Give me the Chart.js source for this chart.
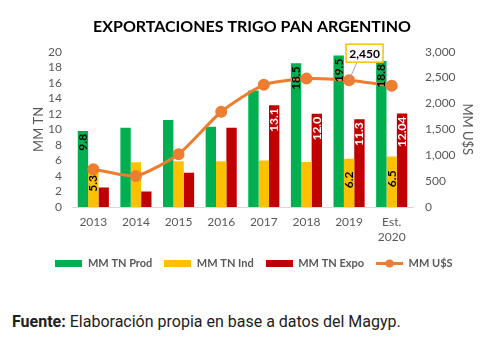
<!DOCTYPE html>
<html>
<head>
<meta charset="utf-8">
<script src="https://cdn.jsdelivr.net/npm/chart.js@4/dist/chart.umd.min.js"></script>
<style>
  html, body { margin: 0; padding: 0; background: #fff; }
  #wrap { position: relative; width: 482px; height: 339px; overflow: hidden; }
  #chartBox { position: absolute; left: 0; top: 0; width: 482px; height: 279px; }
  #fuente { position: absolute; left: 12px; top: 312px; font-family: Roboto, sans-serif;
            font-size: 16px; color: #212121; white-space: nowrap; }
</style>
</head>
<body>
<div id="wrap">
  <div id="chartBox"><canvas id="c" width="482" height="279"></canvas></div>
  <div id="fuente"><b>Fuente:</b> Elaboración propia en base a datos del Magyp.</div>
</div>
<script>
// Campaign years (last one is an estimate)
const years = ['2013', '2014', '2015', '2016', '2017', '2018', '2019', ['Est.', '2020']];

// Millions of tonnes
const prodTn = [9.8, 10.2, 11.2, 10.35, 15.0, 18.5, 19.5, 18.8];
const indTn  = [5.3, 5.75, 5.9, 5.9, 6.0, 5.8, 6.2, 6.5];
const expoTn = [2.5, 2.0, 4.4, 10.2, 13.1, 12.0, 11.3, 12.04];

// Export value, millions of US$
const valueUsd = [730, 600, 1020, 1840, 2360, 2480, 2450, 2340];

// Axis tick ranges
const tnTicks  = { min: 0, max: 20, step: 2 };
const usdTicks = { min: 0, max: 3000, step: 500 };

// Which bars / points carry a value label
const prodLabelIdx = [0, 5, 6, 7];
const indLabelIdx  = [0, 6, 7];
const expoLabelIdx = [4, 5, 6, 7];
const usdLabelIdx  = [6];

const GREEN = '#00B050', YELLOW = '#FFC000', RED = '#C00000', ORANGE = '#ED7D31';
const GREY = '#595959';
const FONT = 'Lato, "Open Sans", sans-serif';

function fmt(v) {
  return Math.abs(Math.round(v * 10) - v * 10) < 1e-9 ? v.toFixed(1) : v.toFixed(2);
}

// Legend swatches drawn as small canvases
function swatchBar(color) {
  const c = document.createElement('canvas');
  c.width = 27; c.height = 7;
  const g = c.getContext('2d');
  g.fillStyle = color; g.fillRect(0, 0, 27, 7);
  return c;
}
function swatchLine(color) {
  const c = document.createElement('canvas');
  c.width = 27; c.height = 9;
  const g = c.getContext('2d');
  g.strokeStyle = color; g.lineWidth = 3;
  g.beginPath(); g.moveTo(0, 4.5); g.lineTo(27, 4.5); g.stroke();
  g.fillStyle = color; g.beginPath(); g.arc(13.5, 4.5, 4, 0, Math.PI * 2); g.fill();
  return c;
}

// Title and legend sit slightly right of the canvas centre (over the plot)
const boxShift = {
  id: 'boxShift',
  afterLayout(chart) {
    const t = chart.titleBlock, l = chart.legend;
    if (t) { t.left += 11; t.right += 11; }
    if (l) { l.left += 13; l.right += 13; }
  }
};

const valueLabels = {
  id: 'valueLabels',
  afterDatasetsDraw(chart) {
    const ctx = chart.ctx;
    ctx.save();
    ctx.font = 'bold 12px ' + FONT;
    ctx.textBaseline = 'middle';

    const bars = [
      { ds: 0, idx: prodLabelIdx, color: '#000', mode: 'end' },
      { ds: 1, idx: indLabelIdx, color: '#000', mode: 'center' },
      { ds: 2, idx: expoLabelIdx, color: '#fff', mode: 'end' }
    ];
    bars.forEach(cfg => {
      const meta = chart.getDatasetMeta(cfg.ds);
      const data = chart.data.datasets[cfg.ds].data;
      cfg.idx.forEach(i => {
        const el = meta.data[i];
        const txt = fmt(data[i]);
        ctx.save();
        if (cfg.mode === 'end') {
          ctx.translate(el.x, el.y + 3);
          ctx.rotate(-Math.PI / 2);
          ctx.textAlign = 'right';
        } else {
          ctx.translate(el.x, (el.y + el.base) / 2 - 3);
          ctx.rotate(-Math.PI / 2);
          ctx.textAlign = 'center';
        }
        ctx.fillStyle = cfg.color;
        ctx.fillText(txt, 0, 0);
        ctx.restore();
      });
    });

    // Callout for the line value
    const lmeta = chart.getDatasetMeta(3);
    const ldata = chart.data.datasets[3].data;
    usdLabelIdx.forEach(i => {
      const p = lmeta.data[i];
      const txt = ldata[i].toLocaleString('en-US');
      const w = 37, h = 18;
      const bx = p.x - 3, by = p.y - 36;
      ctx.strokeStyle = '#A6A6A6';
      ctx.lineWidth = 1;
      ctx.beginPath();
      ctx.moveTo(p.x, p.y);
      ctx.lineTo(bx + 11, by + h);
      ctx.stroke();
      ctx.fillStyle = '#fff';
      ctx.fillRect(bx, by, w, h);
      ctx.strokeStyle = YELLOW;
      ctx.lineWidth = 1.5;
      ctx.strokeRect(bx, by, w, h);
      ctx.fillStyle = '#000';
      ctx.textAlign = 'center';
      ctx.fillText(txt, bx + w / 2, by + h / 2 + 0.5);
    });
    ctx.restore();
  }
};

new Chart(document.getElementById('c'), {
  data: {
    labels: years,
    datasets: [
      { type: 'bar', label: 'MM TN Prod', data: prodTn, backgroundColor: GREEN, yAxisID: 'y', order: 2 },
      { type: 'bar', label: 'MM TN Ind', data: indTn, backgroundColor: YELLOW, yAxisID: 'y', order: 2 },
      { type: 'bar', label: 'MM TN Expo', data: expoTn, backgroundColor: RED, yAxisID: 'y', order: 2 },
      { type: 'line', label: 'MM U$S', data: valueUsd, borderColor: ORANGE, backgroundColor: ORANGE,
        borderWidth: 3, pointRadius: 4.5, pointHoverRadius: 4.5, tension: 0.2, yAxisID: 'y1', order: 1 }
    ]
  },
  options: {
    responsive: false,
    animation: false,
    devicePixelRatio: 1,
    datasets: { bar: { categoryPercentage: 0.73, barPercentage: 1.0 } },
    layout: { padding: { left: 0, right: 0, top: 0, bottom: 0 } },
    plugins: {
      title: {
        display: true,
        text: 'EXPORTACIONES TRIGO PAN ARGENTINO',
        color: '#000',
        font: { family: FONT, size: 16, weight: 'bold' },
        padding: { top: 17, bottom: 15.5 }
      },
      legend: {
        position: 'bottom',
        labels: {
          usePointStyle: true,
          pointStyleWidth: 27,
          padding: 12,
          color: GREY,
          font: { family: FONT, size: 11, weight: 'bold' },
          generateLabels(chart) {
            const styles = [swatchBar(GREEN), swatchBar(YELLOW), swatchBar(RED), swatchLine(ORANGE)];
            return chart.data.datasets.map((d, i) => ({
              text: d.label, pointStyle: styles[i], fillStyle: 'transparent',
              strokeStyle: 'transparent', lineWidth: 0, hidden: false, datasetIndex: i, fontColor: GREY
            }));
          }
        }
      },
      tooltip: { enabled: false }
    },
    scales: {
      x: {
        offset: true,
        grid: { display: false, drawTicks: false },
        border: { display: true, color: '#D9D9D9', width: 1 },
        ticks: { color: GREY, padding: 8, font: { family: FONT, size: 12, lineHeight: 1.25 } },
        afterFit(s) { s.height = 39; }
      },
      y: {
        position: 'left',
        min: tnTicks.min, max: tnTicks.max,
        grid: { display: false, drawTicks: false },
        border: { display: false },
        ticks: { stepSize: tnTicks.step, autoSkip: false, color: GREY, padding: 10, font: { family: FONT, size: 12 } },
        title: { display: true, text: 'MM TN', color: GREY, font: { family: FONT, size: 13 }, padding: { top: 31, bottom: 0 } },
        afterFit(s) { s.width = 72; }
      },
      y1: {
        position: 'right',
        min: usdTicks.min, max: usdTicks.max,
        grid: { display: false, drawTicks: false },
        border: { display: false },
        ticks: { stepSize: usdTicks.step, autoSkip: false, color: GREY, padding: 12, font: { family: FONT, size: 12 },
                 callback: v => v.toLocaleString('en-US') },
        title: { display: true, text: 'MM U$S', color: GREY, font: { family: FONT, size: 13 }, padding: { top: 7, bottom: 0 } },
        afterFit(s) { s.width = 69; }
      }
    }
  },
  plugins: [boxShift, valueLabels]
});
</script>
</body>
</html>
